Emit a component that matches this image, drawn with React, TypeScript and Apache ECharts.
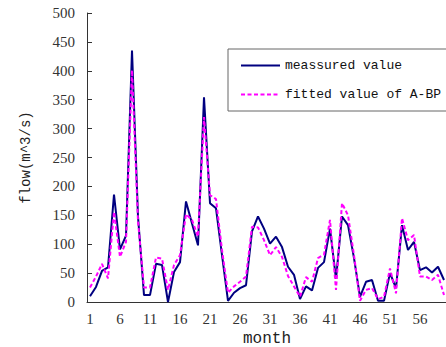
import React, { useEffect, useRef } from "react";
import * as echarts from "echarts";

const months: string[] = Array.from({ length: 60 }, (_, i) => String(i + 1));

const measured: number[] = [
  10, 26, 54, 60, 186, 91, 115, 435, 148, 12,
  12, 66, 64, 0, 52, 69, 174, 136, 98, 354,
  171, 162, 81, 2, 16, 24, 29, 122, 148, 127,
  101, 113, 95, 61, 47, 5, 27, 20, 59, 69,
  127, 40, 148, 133, 76, 9, 35, 38, 2, 2,
  50, 24, 133, 90, 104, 55, 60, 51, 61, 38,
];

const fitted: number[] = [
  25, 44, 66, 41, 156, 78, 104, 401, 140, 25,
  25, 77, 75, 21, 64, 81, 152, 142, 113, 320,
  185, 178, 90, 16, 27, 35, 44, 130, 129, 107,
  81, 95, 78, 45, 27, 9, 43, 35, 76, 82,
  142, 21, 171, 150, 81, 2, 21, 24, 5, 9,
  58, 15, 145, 107, 116, 44, 44, 38, 47, 12,
];

const seriesNames: string[] = ["meassured value", "fitted value of A-BP"];

export default function App() {
  const ref = useRef<HTMLDivElement>(null);
  useEffect(() => {
    if (!ref.current) return;
    const chart = echarts.init(ref.current, null, { renderer: "svg" });
    const mono = "'Liberation Mono', monospace";
    const serif = "'Liberation Serif', serif";
    chart.setOption({
      animation: false,
      backgroundColor: "#fff",
      grid: { left: 87, top: 13, width: 360, bottom: 45, containLabel: false, outerBoundsMode: "none" },
      legend: {
        orient: "vertical",
        left: 228,
        top: 49,
        padding: [10, 10, 10, 12],
        itemGap: 16,
        itemWidth: 39,
        itemHeight: 14,
        borderColor: "#666",
        borderWidth: 1,
        backgroundColor: "#fff",
        itemStyle: { opacity: 0 },
        textStyle: { fontFamily: mono, fontSize: 13, color: "#111" },
        data: seriesNames,
      },
      xAxis: {
        type: "category",
        data: months,
        boundaryGap: true,
        name: "month",
        nameLocation: "middle",
        nameGap: 28,
        nameTextStyle: { fontFamily: mono, fontSize: 16, color: "#222" },
        axisLine: { lineStyle: { color: "#333", width: 1 } },
        axisTick: { inside: true, length: 3, interval: 0, alignWithLabel: true, lineStyle: { color: "#333" } },
        axisLabel: { interval: 4, fontFamily: serif, fontSize: 15, color: "#333", margin: 9 },
        splitLine: { show: false },
      },
      yAxis: {
        type: "value",
        min: 0,
        max: 500,
        interval: 50,
        name: "flow(m^3/s)",
        nameLocation: "middle",
        nameGap: 54,
        nameRotate: 90,
        nameTextStyle: { fontFamily: mono, fontSize: 14, color: "#222" },
        axisLine: { show: true, lineStyle: { color: "#333", width: 1 } },
        axisTick: { show: true, inside: true, length: 5, lineStyle: { color: "#333" } },
        axisLabel: { fontFamily: serif, fontSize: 15, color: "#333", margin: 12 },
        splitLine: { show: false },
      },
      series: [
        {
          name: seriesNames[0],
          type: "line",
          data: measured,
          symbol: "none",
          lineStyle: { color: "#000080", width: 2 },
          itemStyle: { color: "#000080" },
          z: 2,
        },
        {
          name: seriesNames[1],
          type: "line",
          data: fitted,
          symbol: "none",
          lineStyle: { color: "#ff00ff", width: 2, type: [4, 2.5] },
          itemStyle: { color: "#ff00ff" },
          z: 3,
        },
      ],
    });
    return () => chart.dispose();
  }, []);
  return <div ref={ref} style={{ width: 446, height: 347, position: "absolute", left: 0, top: 0 }} />;
}
